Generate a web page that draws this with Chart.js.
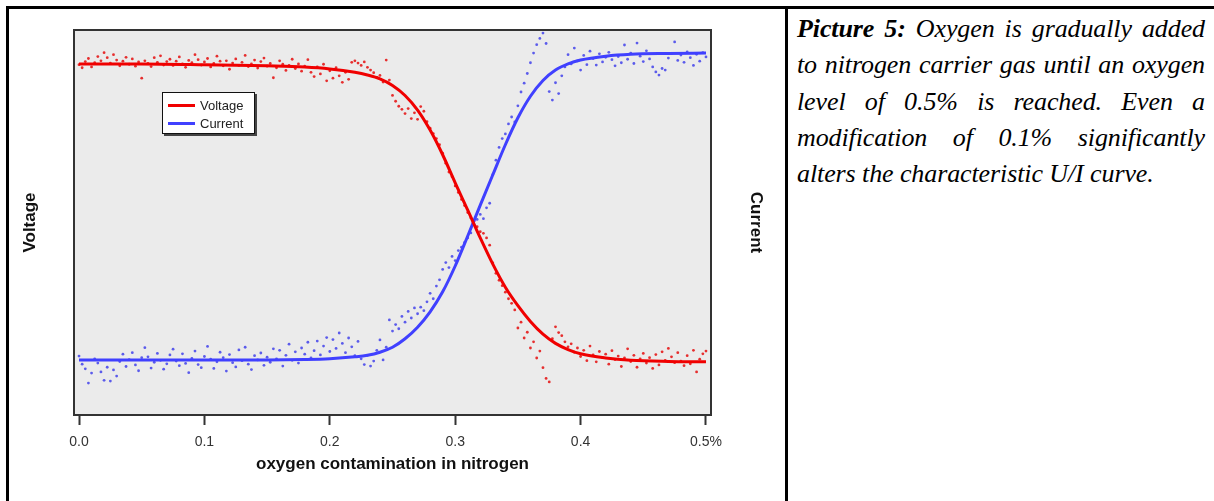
<!DOCTYPE html>
<html>
<head>
<meta charset="utf-8">
<script src="https://cdn.jsdelivr.net/npm/chart.js@4/dist/chart.umd.min.js"></script>
<style>
body { margin: 0; background: #fff; width: 1214px; height: 501px; overflow: hidden; position: relative; font-family: "Liberation Sans", Arial, sans-serif; }
#frame { position: absolute; left: 6px; top: 6px; width: 1300px; height: 600px; border-top: 3px solid #000; border-left: 3px solid #000; }
#divider { position: absolute; left: 785px; top: 6px; width: 3px; height: 600px; background: #000; }
#chartBox { position: absolute; left: 9px; top: 9px; width: 775px; height: 492px; }
#legend { position: absolute; left: 162px; top: 92px; width: 93px; height: 42px; background: #fff; border: 1.5px solid #111; box-shadow: 2px 2px 0 #444; padding-top: 3px; box-sizing: border-box; }
#legend .row { height: 18px; display: flex; align-items: center; font-size: 13px; color: #222; }
#legend .sw { width: 27px; height: 3px; margin: 0 5px 0 5px; }
#caption { position: absolute; left: 797px; top: 11px; width: 408px; font-family: "Liberation Serif", "Times New Roman", serif; font-style: italic; font-size: 26px; letter-spacing: -0.1px; line-height: 36.3px; color: #000; }
#caption div { text-align: justify; text-align-last: justify; white-space: nowrap; }
#caption div.last { text-align-last: left; }
</style>
</head>
<body>
<div id="frame"></div>
<div id="divider"></div>
<div id="chartBox"><canvas id="chart" width="775" height="492"></canvas></div>
<div id="legend"></div>
<div id="caption">
  <div><b>Picture 5:</b> Oxygen is gradually added</div>
  <div>to nitrogen carrier gas until an oxygen</div>
  <div>level of 0.5% is reached. Even a</div>
  <div>modification of 0.1% significantly</div>
  <div class="last">alters the characteristic U/I curve.</div>
</div>
<script>
// measured points, x in % oxygen
const dotX = [
  0.0000, 0.0025, 0.0050, 0.0075, 0.0100, 0.0125, 0.0150, 0.0175, 0.0200, 0.0225,
  0.0250, 0.0275, 0.0300, 0.0325, 0.0350, 0.0375, 0.0400, 0.0425, 0.0450, 0.0475,
  0.0500, 0.0525, 0.0550, 0.0575, 0.0600, 0.0625, 0.0650, 0.0675, 0.0700, 0.0725,
  0.0750, 0.0775, 0.0800, 0.0825, 0.0850, 0.0875, 0.0900, 0.0925, 0.0950, 0.0975,
  0.1000, 0.1025, 0.1050, 0.1075, 0.1100, 0.1125, 0.1150, 0.1175, 0.1200, 0.1225,
  0.1250, 0.1275, 0.1300, 0.1325, 0.1350, 0.1375, 0.1400, 0.1425, 0.1450, 0.1475,
  0.1500, 0.1525, 0.1550, 0.1575, 0.1600, 0.1625, 0.1650, 0.1675, 0.1700, 0.1725,
  0.1750, 0.1775, 0.1800, 0.1825, 0.1850, 0.1875, 0.1900, 0.1925, 0.1950, 0.1975,
  0.2000, 0.2025, 0.2050, 0.2075, 0.2100, 0.2125, 0.2150, 0.2175, 0.2200, 0.2225,
  0.2250, 0.2275, 0.2300, 0.2325, 0.2350, 0.2375, 0.2400, 0.2425, 0.2450, 0.2475,
  0.2500, 0.2525, 0.2550, 0.2575, 0.2600, 0.2625, 0.2650, 0.2675, 0.2700, 0.2725,
  0.2750, 0.2775, 0.2800, 0.2825, 0.2850, 0.2875, 0.2900, 0.2925, 0.2950, 0.2975,
  0.3000, 0.3025, 0.3050, 0.3075, 0.3100, 0.3125, 0.3150, 0.3175, 0.3200, 0.3225,
  0.3250, 0.3275, 0.3300, 0.3325, 0.3350, 0.3375, 0.3400, 0.3425, 0.3450, 0.3475,
  0.3500, 0.3525, 0.3550, 0.3575, 0.3600, 0.3625, 0.3650, 0.3675, 0.3700, 0.3725,
  0.3750, 0.3775, 0.3800, 0.3825, 0.3850, 0.3875, 0.3900, 0.3925, 0.3950, 0.3975,
  0.4000, 0.4025, 0.4050, 0.4075, 0.4100, 0.4125, 0.4150, 0.4175, 0.4200, 0.4225,
  0.4250, 0.4275, 0.4300, 0.4325, 0.4350, 0.4375, 0.4400, 0.4425, 0.4450, 0.4475,
  0.4500, 0.4525, 0.4550, 0.4575, 0.4600, 0.4625, 0.4650, 0.4675, 0.4700, 0.4725,
  0.4750, 0.4775, 0.4800, 0.4825, 0.4850, 0.4875, 0.4900, 0.4925, 0.4950, 0.4975,
  0.5000
];
const voltageDots = [
  91.0, 90.2, 91.8, 92.6, 90.4, 91.5, 93.1, 92.0, 94.1, 92.8,
  91.4, 93.6, 92.2, 90.7, 91.9, 92.9, 91.1, 92.5, 90.6, 91.7,
  87.5, 92.0, 91.3, 90.5, 92.8, 91.6, 93.3, 90.9, 91.8, 92.4,
  90.8, 91.9, 93.0, 91.2, 90.3, 92.1, 91.5, 93.6, 92.3, 90.9,
  91.7, 92.6, 90.4, 91.3, 93.2, 91.9, 90.7, 92.0, 89.8, 91.4,
  92.5, 90.8, 91.6, 93.4, 90.5, 91.2, 92.2, 90.1, 91.8, 92.7,
  90.6, 91.3, 87.6, 90.2, 92.0, 91.1, 89.5, 90.8, 92.4, 90.0,
  91.2, 89.3, 90.6, 92.3, 89.0, 87.9, 90.4, 88.6, 91.1, 86.8,
  89.4, 87.5, 90.2, 88.1, 86.4, 89.0, 87.2, 91.6, 92.0, 91.4,
  90.8, 91.7, 90.3, 89.6, 88.9, 87.7, 88.2, 86.5, 92.2, 87.0,
  83.0, 81.5, 80.2, 79.4, 78.3, 79.6, 77.0, 78.5, 76.8, 80.1,
  78.9, 76.2, 74.5, 73.1, 71.8, 70.2, 68.0, 65.4, 63.1, 61.9,
  59.5, 57.8, 56.0, 54.4, 52.6, 51.2, 50.4, 48.9, 47.6, 47.2,
  46.0, 44.1, 39.5, 36.8, 35.0, 33.6, 31.9, 30.2, 29.0, 27.3,
  22.6, 24.1, 20.0, 21.5, 17.4, 19.0, 14.8, 16.6, 12.3, 9.5,
  8.6, 19.8, 22.9, 21.4, 20.6, 19.0, 17.7, 18.5, 16.3, 17.4,
  15.2, 16.8, 14.1, 17.9, 15.6, 13.8, 16.5, 14.9, 15.8, 13.2,
  16.7, 14.4, 15.3, 12.6, 14.8, 17.2, 13.9, 15.5, 12.4, 14.6,
  16.0, 13.5, 14.9, 12.1, 15.7, 13.0, 16.4, 14.2, 17.3, 15.1,
  13.6, 16.2, 14.0, 12.8, 15.4, 13.3, 16.8, 11.2, 14.5, 15.9,
  16.6
];
const currentDots = [
  15.3, 13.2, 12.0, 8.3, 10.9, 14.6, 13.5, 11.2, 9.0, 12.4,
  8.8, 11.7, 10.1, 13.9, 15.8, 12.6, 14.4, 16.2, 13.0, 11.5,
  14.9, 17.5, 15.1, 12.2, 13.7, 16.0, 14.2, 11.9, 13.3, 15.6,
  17.1, 14.0, 12.8, 15.9, 13.4, 11.0, 14.7, 16.6, 13.1, 12.3,
  15.2, 17.8, 14.5, 12.1, 13.8, 16.3, 14.9, 11.4, 15.7, 13.6,
  12.5, 16.9, 14.1, 17.6, 13.2, 11.8, 15.4, 14.3, 16.1, 12.9,
  15.0, 13.7, 17.2, 14.6, 16.8, 12.7, 15.5, 18.4, 14.2, 16.4,
  13.5, 17.4, 15.8, 18.9, 14.8, 16.7, 19.2, 15.6, 17.9, 20.1,
  16.5, 19.6, 17.3, 21.3, 18.6, 16.2, 20.0, 17.7, 15.4, 19.1,
  14.6, 13.1, 15.5, 12.7, 14.0, 16.8, 19.5, 14.3, 17.6, 24.7,
  21.8, 23.5, 22.4, 25.6, 24.1, 26.9, 25.2, 27.8, 26.3, 28.0,
  27.1, 29.4, 31.6, 30.2, 33.5, 35.1, 37.8, 39.6, 38.3, 41.2,
  40.1, 42.7, 43.6, 44.8, 46.0, 47.3, 49.5, 50.8, 52.1, 51.0,
  53.8, 55.0, 62.4, 66.2, 69.5, 71.8, 73.0, 75.6, 77.4, 76.1,
  80.3, 83.9, 86.2, 88.7, 91.5, 94.0, 96.2, 97.8, 99.2, 96.5,
  84.0, 81.8, 86.3, 83.5, 88.1, 90.4, 93.6, 91.2, 95.3, 92.0,
  89.6, 93.4, 91.0, 94.5, 92.6, 90.9, 93.8, 91.7, 92.9, 94.2,
  92.3, 90.7, 93.1, 91.5, 96.1, 92.4, 94.0, 91.3, 96.6, 93.2,
  91.8, 94.6, 92.5, 90.4, 89.1, 88.3, 90.0, 89.6, 92.7, 93.9,
  96.9, 92.1, 93.5, 91.6, 94.3, 92.8, 90.8, 93.7, 91.9, 94.1,
  93.0
];

// fitted curves
const fitX = [0, 0.05, 0.10, 0.15, 0.18, 0.20, 0.22, 0.23, 0.24, 0.25, 0.26, 0.27, 0.28, 0.29,
  0.30, 0.31, 0.32, 0.33, 0.34, 0.35, 0.36, 0.37, 0.38, 0.39, 0.40, 0.42, 0.44, 0.47, 0.50];
const voltageFit = [91.2, 91.2, 91.0, 90.7, 90.4, 89.9, 89.0, 88.3, 87.3, 85.6, 83.0, 79.2, 74.0, 67.6,
  60.3, 53.2, 46.0, 39.2, 33.2, 28.4, 24.3, 21.0, 18.6, 17.0, 15.9, 14.8, 14.2, 13.9, 13.8];
const currentFit = [14.3, 14.3, 14.3, 14.3, 14.4, 14.6, 15.1, 15.5, 16.3, 17.6, 19.8, 22.8, 26.8, 32.0,
  38.7, 46.5, 54.5, 62.4, 70.2, 77.2, 82.8, 86.9, 89.6, 91.2, 92.2, 93.2, 93.7, 93.9, 94.0];

const xTickValues = [0, 0.1, 0.2, 0.3, 0.4, 0.5];
const xTickLabels = ['0.0', '0.1', '0.2', '0.3', '0.4', '0.5%'];

function toPoints(xs, ys) {
    return xs.map((x, i) => ({ x: x, y: ys[i] }));
}

// grey plot panel with dark frame
const plotFrame = {
    id: 'plotFrame',
    beforeDatasetsDraw(chart) {
        const { ctx, chartArea } = chart;
        ctx.save();
        ctx.fillStyle = '#ebebeb';
        ctx.fillRect(chartArea.left, chartArea.top, chartArea.width, chartArea.height);
        ctx.restore();
    },
    afterDatasetsDraw(chart) {
        const { ctx, chartArea } = chart;
        ctx.save();
        ctx.strokeStyle = '#333';
        ctx.lineWidth = 2;
        ctx.strokeRect(chartArea.left, chartArea.top, chartArea.width, chartArea.height);
        ctx.restore();
    }
};

const hiddenAxis = (pos, title, pad, width) => ({
    position: pos,
    min: 0,
    max: 100,
    ticks: { display: false },
    grid: { display: false },
    border: { display: false },
    title: {
        display: true,
        text: title,
        color: '#111',
        font: { family: 'Liberation Sans', size: 17, weight: 'bold' },
        padding: { top: pad, bottom: 0 }
    },
    afterFit: s => { s.width = width; }
});

const chart = new Chart(document.getElementById('chart').getContext('2d'), {
    type: 'scatter',
    data: {
        datasets: [
            {
                label: 'Voltage',
                data: toPoints(fitX, voltageFit),
                yAxisID: 'y',
                showLine: true,
                borderColor: '#f00000',
                backgroundColor: '#f00000',
                borderWidth: 3,
                pointRadius: 0,
                cubicInterpolationMode: 'monotone',
                order: 0
            },
            {
                label: 'Current',
                data: toPoints(fitX, currentFit),
                yAxisID: 'y1',
                showLine: true,
                borderColor: '#4040ff',
                backgroundColor: '#4040ff',
                borderWidth: 3,
                pointRadius: 0,
                cubicInterpolationMode: 'monotone',
                order: 1
            },
            {
                label: '',
                data: toPoints(dotX, voltageDots),
                yAxisID: 'y',
                pointRadius: 1.4,
                pointBorderWidth: 0,
                pointBackgroundColor: 'rgba(230, 25, 25, 0.9)',
                order: 2
            },
            {
                label: '',
                data: toPoints(dotX, currentDots),
                yAxisID: 'y1',
                pointRadius: 1.4,
                pointBorderWidth: 0,
                pointBackgroundColor: 'rgba(75, 75, 235, 0.9)',
                order: 3
            }
        ]
    },
    options: {
        responsive: false,
        animation: false,
        devicePixelRatio: 1,
        layout: { padding: { top: 21, left: 0, right: 0, bottom: 0 } },
        plugins: {
            legend: { display: false },
            tooltip: { enabled: false }
        },
        scales: {
            x: {
                type: 'linear',
                min: -0.004,
                max: 0.504,
                afterBuildTicks: s => { s.ticks = xTickValues.map(v => ({ value: v })); },
                ticks: {
                    callback: (v, i) => xTickLabels[i],
                    color: '#333',
                    font: { family: 'Liberation Sans', size: 14 },
                    padding: 9,
                    maxRotation: 0,
                    autoSkip: false
                },
                grid: { drawOnChartArea: false, drawTicks: true, tickLength: 10, tickWidth: 2, tickColor: '#333' },
                border: { display: false },
                title: {
                    display: true,
                    text: 'oxygen contamination in nitrogen',
                    color: '#111',
                    font: { family: 'Liberation Sans', size: 17, weight: 'bold' },
                    padding: { top: 0, bottom: 26 }
                },
                afterFit: s => { s.height = 86; }
            },
            y: hiddenAxis('left', 'Voltage', 11, 65),
            y1: hiddenAxis('right', 'Current', 18, 73)
        }
    },
    plugins: [plotFrame]
});

// legend box built from the two fitted lines
const legendBox = document.getElementById('legend');
chart.data.datasets.filter(d => d.showLine).forEach(d => {
    const row = document.createElement('div');
    row.className = 'row';
    const sw = document.createElement('span');
    sw.className = 'sw';
    sw.style.background = d.borderColor;
    row.appendChild(sw);
    row.appendChild(document.createTextNode(d.label));
    legendBox.appendChild(row);
});
</script>
</body>
</html>
